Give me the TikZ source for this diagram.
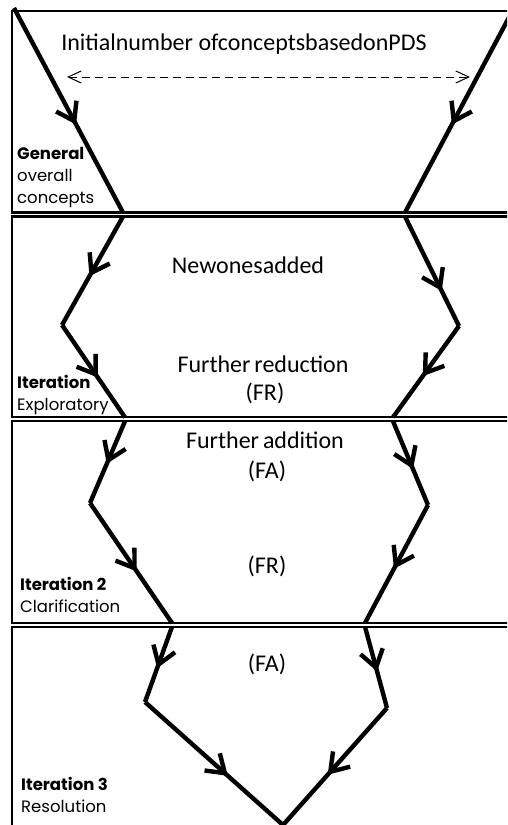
\documentclass[tikz,border=0pt]{standalone}
\usepackage{fontspec}
\setmainfont{Carlito}
\newfontfamily\stagefont{Poppins}
\usetikzlibrary{arrows.meta,decorations.markings}

\tikzset{
  barb/.tip={Straight Barb[length=17pt,width=23pt]},
  thinbarb/.tip={Straight Barb[length=13pt,width=12pt]},
  band/.style={draw=black,line width=2.3pt},
  flow/.style={line width=4.4pt,line join=miter},
  arrowat/.style={postaction={decorate,decoration={markings,
      mark=at position #1 with {\arrow{barb}}}}},
  spread/.style={line width=1pt,dash pattern=on 8pt off 5pt,thinbarb-thinbarb},
  caption/.style={inner sep=0pt,anchor=base,font=\fontsize{24}{29}\selectfont},
  stagehead/.style={inner sep=0pt,anchor=base west,font=\stagefont\bfseries\fontsize{16.5}{22}\selectfont},
  stagetext/.style={inner sep=0pt,anchor=base west,font=\stagefont\fontsize{16.5}{22}\selectfont},
}

\begin{document}
\begin{tikzpicture}[x=1pt,y=-1pt]
\useasboundingbox (0,0) rectangle (507,825);
\clip (0,0) rectangle (507,825);

% stage bands
\draw[band] (12,11) rectangle (530,212.5);
\draw[band] (12,216.5) rectangle (530,417.3);
\draw[band] (12,421.2) rectangle (530,623);
\draw[band] (12,626.8) rectangle (530,850);

% funnel vertices
\coordinate (L0) at (14,8);   \coordinate (R0) at (514,8);
\coordinate (L1) at (123,212.5); \coordinate (R1) at (405,212.5);
\coordinate (L1b) at (123,216.5); \coordinate (R1b) at (405,216.5);
\coordinate (L2) at (62,325);  \coordinate (R2) at (459,326);
\coordinate (L3) at (125,417.3); \coordinate (R3) at (393,417.3);
\coordinate (L3b) at (125,421.2); \coordinate (R3b) at (393,421.2);
\coordinate (L4) at (90,503);  \coordinate (R4) at (428,505);
\coordinate (L5) at (172,623); \coordinate (R5) at (365,623);
\coordinate (L5b) at (172,626.8); \coordinate (R5b) at (365,626.8);
\coordinate (L6) at (145,702); \coordinate (R6) at (387,708);
\coordinate (B) at (283,825);

% funnel: general stage
\draw[flow,arrowat=0.57] (L0) -- (L1);
\draw[flow,arrowat=0.57] (R0) -- (R1);
% iteration (exploratory)
\draw[flow,arrowat=0.55] (L1b) -- (L2);
\draw[flow,arrowat=0.57] (L2) -- (L3);
\draw[flow,arrowat=0.68] (R1b) -- (R2);
\draw[flow,arrowat=0.55] (R2) -- (R3);
% iteration 2
\draw[flow,arrowat=0.52] (L3b) -- (L4);
\draw[flow,arrowat=0.57] (L4) -- (L5);
\draw[flow,arrowat=0.57] (R3b) -- (R4);
\draw[flow,arrowat=0.54] (R4) -- (R5);
% iteration 3
\draw[flow,arrowat=0.55] (L5b) -- (L6);
\draw[flow,arrowat=0.6] (L6) -- (B);
\draw[flow,arrowat=0.55] (R5b) -- (R6);
\draw[flow,arrowat=0.57] (R6) -- (B);

% initial spread
\node[caption] (init) at (244,50) {Initialnumber ofconceptsbasedonPDS};
\coordinate (spreadL) at (67,77);
\coordinate (spreadR) at (470,77);
\draw[spread] (spreadL) -- (spreadR);

% captions inside the funnel
\node[caption] (new) at (248,273) {Newonesadded};
\node[caption] (fred) at (263,372) {Further\hspace{-1.5pt} reduction};
\node[caption] (fr1) at (265,400) {(FR)};
\node[caption] (fadd) at (265,448) {Further\hspace{-1.5pt} addition};
\node[caption] (fa1) at (267,478) {(FA)};
\node[caption] (fr2) at (267,573) {(FR)};
\node[caption] (fa2) at (267,671) {(FA)};

% stage labels
\node[stagehead] (s1a) at (17,159) {General};
\node[stagetext] (s1b) at (17,181) {overall};
\node[stagetext] (s1c) at (17,203) {concepts};
\node[stagehead] (s2a) at (17,388) {Iteration};
\node[stagetext] (s2b) at (17,410) {Exploratory};
\node[stagehead] (s3a) at (20,590) {Iteration 2};
\node[stagetext] (s3b) at (20,612) {Clarification};
\node[stagehead] (s4a) at (21,790) {Iteration 3};
\node[stagetext] (s4b) at (21,812) {Resolution};
\end{tikzpicture}
\end{document}
